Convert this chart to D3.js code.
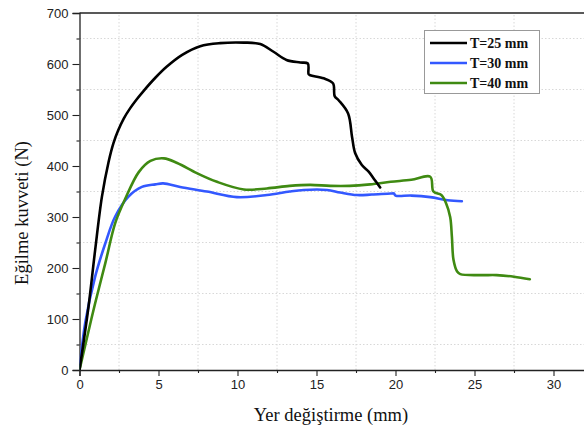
<!DOCTYPE html>
<html><head><meta charset="utf-8">
<script src="https://cdn.jsdelivr.net/npm/d3@7"></script>
<style>body{margin:0;background:#fff}svg{display:block}</style>
</head><body>
<svg id="c" width="584" height="431"></svg>
<script>
const xTicks = [0, 5, 10, 15, 20, 25, 30];
const yTicks = [0, 100, 200, 300, 400, 500, 600, 700];
const seriesNames = ["T=25 mm", "T=30 mm", "T=40 mm"];
const t25X = [0, 0.57, 0.99, 1.42, 1.84, 2.15, 2.45, 2.8, 3.2, 3.6, 4.05, 4.8, 5.53, 6.5, 7.64, 8.9, 10.4, 11.44, 12.28, 13.1, 13.97, 14.45, 14.5, 14.6, 15.45, 16.05, 16.15, 16.4, 17.0, 17.25, 17.45, 17.87, 18.3, 18.7, 19.03];
const t25Y = [0, 124, 235, 340, 408, 445, 470, 493, 513, 530, 547, 573, 595, 618, 635, 641, 642, 639, 624, 608, 603, 601, 580, 578, 572, 562, 537, 529, 503, 457, 425, 402, 389, 372, 358];
const t30X = [0, 0.36, 0.99, 1.63, 2.26, 3.1, 3.95, 4.8, 5.3, 6.37, 8.06, 9.96, 11.86, 13.3, 14.2, 15.66, 16.5, 17.56, 18.5, 19.7, 19.9, 20.0, 21, 22.2, 23.3, 24.2];
const t30Y = [0, 92, 183, 248, 301, 340, 359, 364, 366, 359, 350, 339, 343, 350, 353, 353, 348, 343, 344, 346, 346, 342, 342, 339, 333, 331];
const t40X = [0, 0.36, 0.99, 1.63, 2.26, 2.9, 3.75, 4.49, 5.34, 6.18, 7.43, 8.7, 10.4, 11.86, 13.3, 14.6, 15.87, 17.1, 18.4, 19.7, 21, 22.2, 22.4, 22.9, 23.2, 23.46, 23.57, 23.67, 23.9, 24.1, 25.4, 26.4, 27.5, 28.5];
const t40Y = [0, 48, 131, 209, 288, 336, 388, 410, 415, 406, 386, 369, 354, 356, 361, 363, 361, 361, 364, 369, 373, 379, 350, 343, 327, 300, 261, 216, 193, 188, 186, 186, 183, 178];
const colors = ["#000000", "#3358ff", "#3f8a12"];

const svg = d3.select("#c");
const x = d3.scaleLinear().domain([0, 32]).range([79.5, 585.1]);
const y = d3.scaleLinear().domain([0, 700]).range([370, 13]);

const xMinor = d3.range(2.5, 32, 5);
const yMinor = d3.range(50, 700, 100);

const grid = svg.append("g").attr("stroke", "#d8d8d8").attr("stroke-width", 1).attr("stroke-dasharray", "1.5,2");
xMinor.forEach(v => grid.append("line").attr("x1", x(v)).attr("x2", x(v)).attr("y1", y(0)).attr("y2", y(700)));
yMinor.forEach(v => grid.append("line").attr("x1", x(0)).attr("x2", 584).attr("y1", y(v)).attr("y2", y(v)));

svg.append("g").attr("transform", `translate(0,${y(0)})`)
  .call(d3.axisBottom(x).tickValues(xTicks).tickSize(6).tickPadding(4).tickFormat(d3.format("d")));
svg.append("g").attr("transform", `translate(0,${y(0)})`)
  .call(d3.axisBottom(x).tickValues(xMinor).tickSize(3).tickFormat(""))
  .call(g => g.select(".domain").remove());
svg.append("g").attr("transform", `translate(${x(0)},0)`)
  .call(d3.axisLeft(y).tickValues(yTicks).tickSize(7).tickPadding(4).tickFormat(d3.format("d")));
svg.append("g").attr("transform", `translate(${x(0)},0)`)
  .call(d3.axisLeft(y).tickValues(yMinor).tickSize(3).tickFormat(""))
  .call(g => g.select(".domain").remove());
svg.selectAll(".domain").attr("stroke", "#222").attr("stroke-width", 1.3);
svg.selectAll(".tick line").attr("stroke", "#222").attr("stroke-width", 1.1);
svg.selectAll(".tick text").attr("font-family", "Liberation Sans, Arial, sans-serif").attr("font-size", 13).attr("fill", "#222");
svg.append("line").attr("x1", x(0)).attr("x2", 584).attr("y1", y(700)).attr("y2", y(700)).attr("stroke", "#222").attr("stroke-width", 1.3);

svg.append("text").attr("x", 331).attr("y", 421).attr("text-anchor", "middle")
  .attr("font-family", "Liberation Serif, Times New Roman, serif").attr("font-size", 18.5).attr("fill", "#111")
  .text("Yer değiştirme (mm)");
svg.append("text").attr("transform", "translate(28,213) rotate(-90)").attr("text-anchor", "middle")
  .attr("font-family", "Liberation Serif, Times New Roman, serif").attr("font-size", 18.5).attr("fill", "#111")
  .text("Eğilme kuvveti (N)");

svg.append("clipPath").attr("id", "clip").append("rect").attr("x", x(0)).attr("y", y(700)).attr("width", 584 - x(0)).attr("height", y(0) - y(700));
const line = d3.line().x(d => x(d[0])).y(d => y(d[1])).curve(d3.curveCatmullRom.alpha(0.5));
const data = [d3.zip(t25X, t25Y), d3.zip(t30X, t30Y), d3.zip(t40X, t40Y)];
const plot = svg.append("g").attr("clip-path", "url(#clip)");
[1, 2, 0].forEach(i => {
  plot.append("path").datum(data[i]).attr("d", line).attr("fill", "none")
    .attr("stroke", colors[i]).attr("stroke-width", 2.6).attr("stroke-linejoin", "round").attr("stroke-linecap", "round");
});

const lg = svg.append("g");
lg.append("rect").attr("x", 424.5).attr("y", 30.5).attr("width", 115).attr("height", 63)
  .attr("fill", "#fff").attr("stroke", "#999").attr("stroke-width", 1);
seriesNames.forEach((n, i) => {
  const yy = 43 + i * 20;
  lg.append("line").attr("x1", 430).attr("x2", 467).attr("y1", yy).attr("y2", yy).attr("stroke", colors[i]).attr("stroke-width", 2.6);
  lg.append("text").attr("x", 470).attr("y", yy + 5).attr("font-family", "Liberation Serif, Times New Roman, serif")
    .attr("font-weight", "bold").attr("font-size", 14).attr("fill", "#111").text(n);
});
</script>
</body></html>
